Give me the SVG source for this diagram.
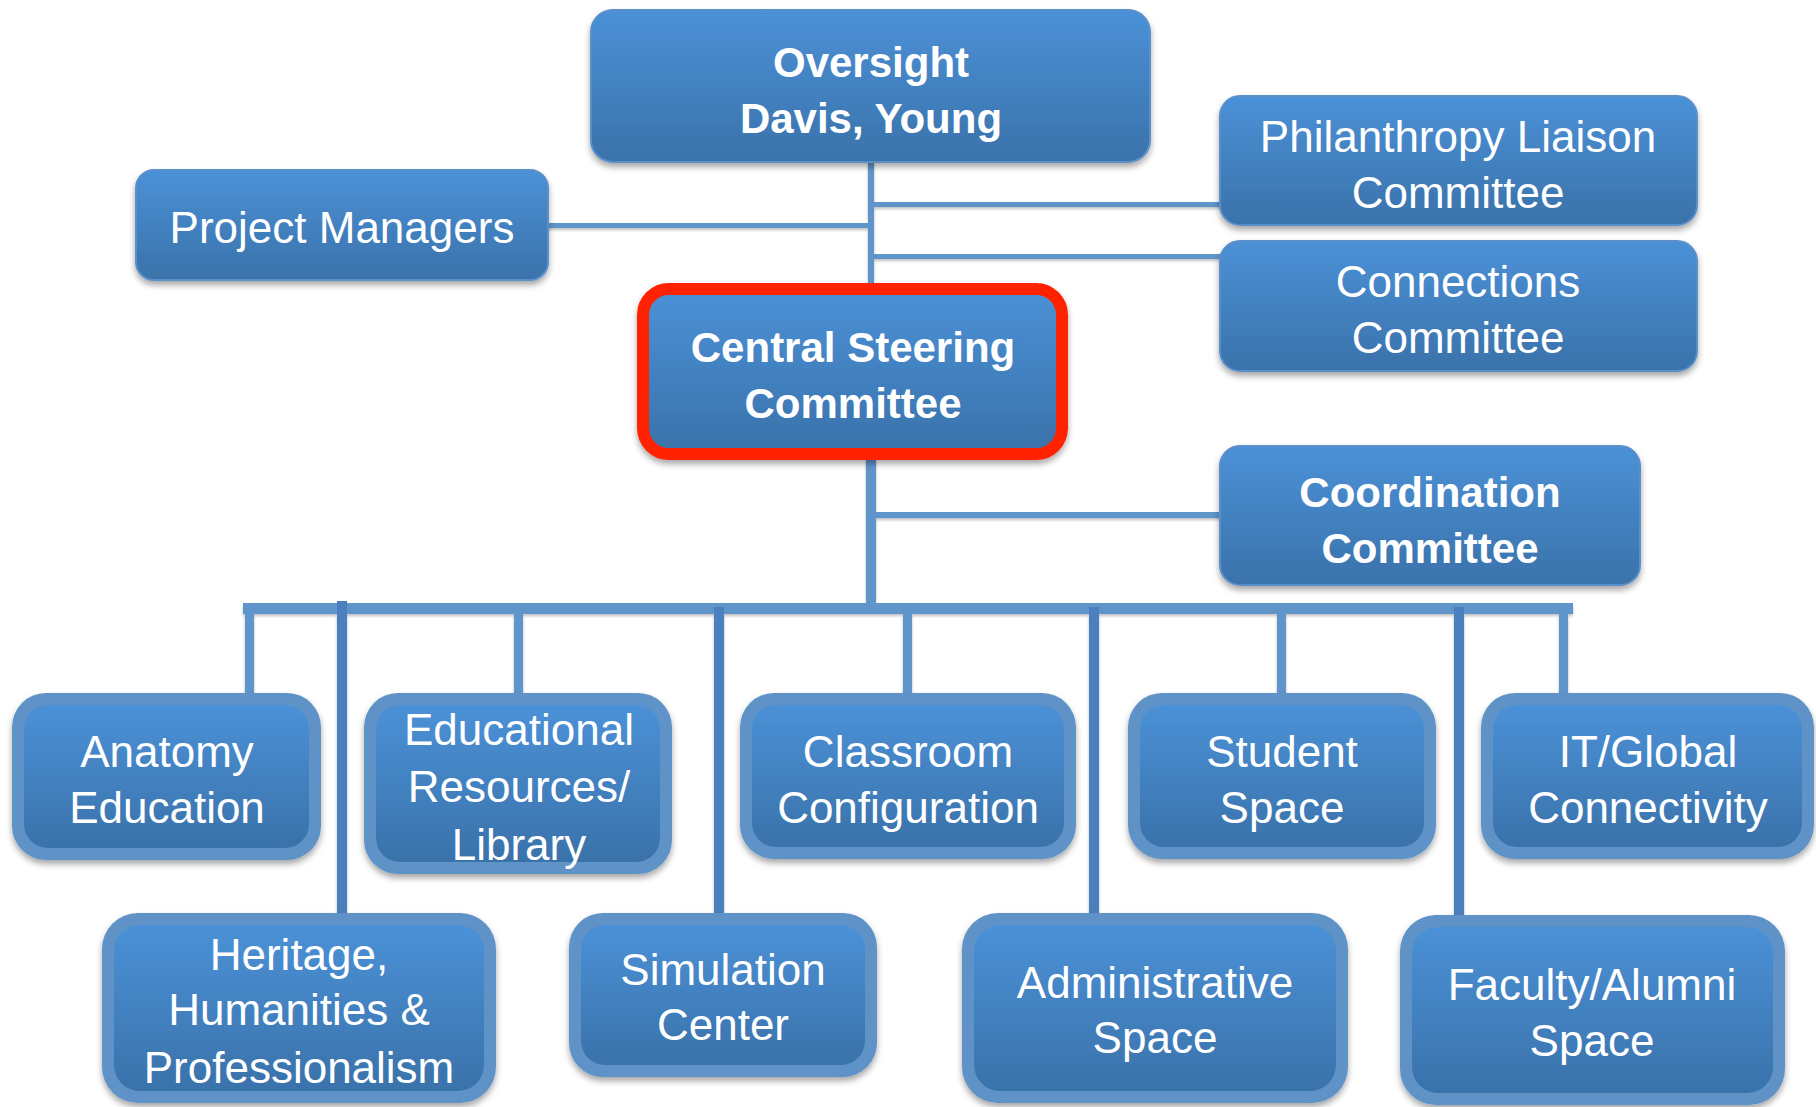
<svg xmlns="http://www.w3.org/2000/svg" width="1816" height="1107" viewBox="0 0 1816 1107">
<defs>
  <linearGradient id="g" x1="0" y1="0" x2="0" y2="1">
    <stop offset="0" stop-color="#4b91d7"/>
    <stop offset="1" stop-color="#3a72aa"/>
  </linearGradient>
  <filter id="sh" x="-10%" y="-10%" width="120%" height="130%">
    <feDropShadow dx="0" dy="4" stdDeviation="3" flood-color="#000" flood-opacity="0.35"/>
  </filter>
  <filter id="lsh" x="-20%" y="-20%" width="140%" height="160%">
    <feDropShadow dx="0" dy="2" stdDeviation="1.5" flood-color="#000" flood-opacity="0.25"/>
  </filter>
  <style>
    .box{fill:url(#g);stroke:#5a8fc9;stroke-width:2;filter:url(#sh)}
    .outer{fill:#5f93c8;filter:url(#sh)}
    .inner{fill:url(#g)}
    .red{fill:url(#g);stroke:#ff2200;stroke-width:12;filter:url(#sh)}
    .t{font-family:"Liberation Sans",Arial,sans-serif;font-size:44px;fill:#fff;text-anchor:middle}
    .b{font-weight:bold;font-size:42px}
    .c{fill:#5f95ca}
    .d{fill:#4c7fbd}
  </style>
</defs>
<rect width="1816" height="1107" fill="#fff"/>

<g id="connectors" filter="url(#lsh)">
  <rect class="c" x="868" y="160" width="6" height="130"/>
  <rect class="c" x="546" y="223" width="325" height="5"/>
  <rect class="c" x="871" y="202" width="351" height="5"/>
  <rect class="c" x="871" y="254" width="351" height="5"/>
  <rect class="c" x="866" y="458" width="10" height="150"/>
  <rect class="c" x="871" y="512" width="351" height="6"/>
  <rect class="c" x="243" y="603" width="1330" height="11"/>
  <rect class="c" x="245" y="612" width="9" height="84"/>
  <rect class="c" x="514" y="612" width="9" height="84"/>
  <rect class="c" x="903" y="612" width="9" height="84"/>
  <rect class="c" x="1277" y="612" width="9" height="84"/>
  <rect class="c" x="1559" y="612" width="9" height="84"/>
  <rect class="d" x="337" y="601" width="10" height="314"/>
  <rect class="d" x="714" y="607" width="10" height="308"/>
  <rect class="d" x="1089" y="607" width="10" height="308"/>
  <rect class="d" x="1454" y="607" width="10" height="310"/>
</g>

<g id="oversight">
  <rect class="box" x="591" y="10" width="559" height="152" rx="22"/>
  <text class="t b" x="871" y="77">Oversight</text>
  <text class="t b" x="871" y="133">Davis, Young</text>
</g>
<g id="project-managers">
  <rect class="box" x="136" y="170" width="412" height="110" rx="18"/>
  <text class="t" x="342" y="243">Project Managers</text>
</g>
<g id="philanthropy">
  <rect class="box" x="1220" y="96" width="477" height="129" rx="20"/>
  <text class="t" x="1458" y="152">Philanthropy Liaison</text>
  <text class="t" x="1458" y="208">Committee</text>
</g>
<g id="connections">
  <rect class="box" x="1220" y="241" width="477" height="130" rx="20"/>
  <text class="t" x="1458" y="297">Connections</text>
  <text class="t" x="1458" y="353">Committee</text>
</g>
<g id="central-steering">
  <rect class="red" x="643" y="289" width="419" height="165" rx="26"/>
  <text class="t b" x="853" y="362">Central Steering</text>
  <text class="t b" x="853" y="418">Committee</text>
</g>
<g id="coordination">
  <rect class="box" x="1220" y="446" width="420" height="139" rx="20"/>
  <text class="t b" x="1430" y="507">Coordination</text>
  <text class="t b" x="1430" y="563">Committee</text>
</g>

<g id="anatomy">
  <rect class="outer" x="12" y="693" width="309" height="167" rx="34"/>
  <rect class="inner" x="24" y="705" width="285" height="143" rx="24"/>
  <text class="t" x="167" y="767">Anatomy</text>
  <text class="t" x="167" y="823">Education</text>
</g>
<g id="educational">
  <rect class="outer" x="364" y="693" width="308" height="181" rx="34"/>
  <rect class="inner" x="376" y="705" width="284" height="157" rx="24"/>
  <text class="t" x="519" y="745">Educational</text>
  <text class="t" x="519" y="802">Resources/</text>
  <text class="t" x="519" y="860">Library</text>
</g>
<g id="classroom">
  <rect class="outer" x="740" y="693" width="336" height="166" rx="34"/>
  <rect class="inner" x="752" y="705" width="312" height="142" rx="24"/>
  <text class="t" x="908" y="767">Classroom</text>
  <text class="t" x="908" y="823">Configuration</text>
</g>
<g id="student">
  <rect class="outer" x="1128" y="693" width="308" height="166" rx="34"/>
  <rect class="inner" x="1140" y="705" width="284" height="142" rx="24"/>
  <text class="t" x="1282" y="767">Student</text>
  <text class="t" x="1282" y="823">Space</text>
</g>
<g id="it-global">
  <rect class="outer" x="1481" y="693" width="333" height="166" rx="34"/>
  <rect class="inner" x="1493" y="705" width="309" height="142" rx="24"/>
  <text class="t" x="1648" y="767">IT/Global</text>
  <text class="t" x="1648" y="823">Connectivity</text>
</g>
<g id="heritage">
  <rect class="outer" x="102" y="913" width="394" height="190" rx="36"/>
  <rect class="inner" x="114" y="925" width="370" height="166" rx="26"/>
  <text class="t" x="299" y="970">Heritage,</text>
  <text class="t" x="299" y="1025">Humanities &amp;</text>
  <text class="t" x="299" y="1083">Professionalism</text>
</g>
<g id="simulation">
  <rect class="outer" x="569" y="913" width="308" height="164" rx="34"/>
  <rect class="inner" x="581" y="925" width="284" height="140" rx="24"/>
  <text class="t" x="723" y="985">Simulation</text>
  <text class="t" x="723" y="1040">Center</text>
</g>
<g id="administrative">
  <rect class="outer" x="962" y="913" width="386" height="190" rx="36"/>
  <rect class="inner" x="974" y="925" width="362" height="166" rx="26"/>
  <text class="t" x="1155" y="998">Administrative</text>
  <text class="t" x="1155" y="1053">Space</text>
</g>
<g id="faculty-alumni">
  <rect class="outer" x="1400" y="915" width="385" height="190" rx="36"/>
  <rect class="inner" x="1412" y="927" width="361" height="166" rx="26"/>
  <text class="t" x="1592" y="1000">Faculty/Alumni</text>
  <text class="t" x="1592" y="1056">Space</text>
</g>
</svg>
